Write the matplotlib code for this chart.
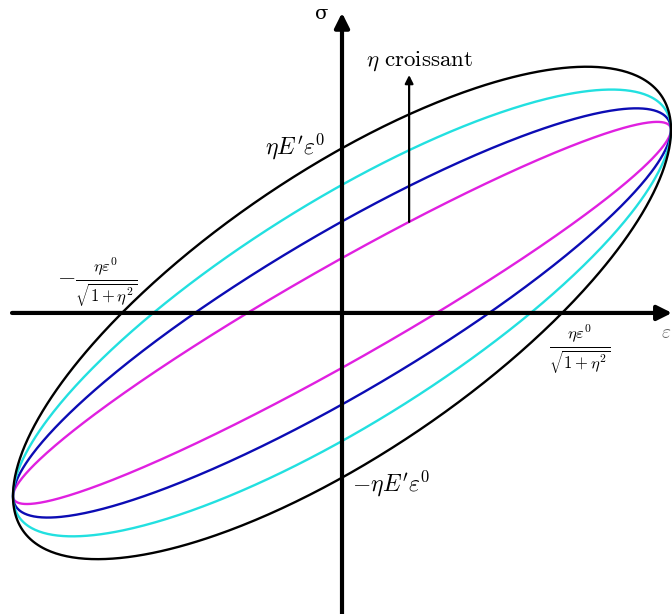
import numpy as np
import matplotlib.pyplot as plt

plt.rcParams['mathtext.fontset'] = 'cm'

# loss factor of each loop and its colour (inner to outer)
eta_values = [0.3, 0.5, 0.7, 0.9]
colors = ['#e020e0', '#0c0cb4', '#22e0e0', 'black']

# strain amplitude and modulus in plot units (eps0 = 1, E' eps0 = 1)
eps0 = 1.0
E_prime = 1.0

t = np.linspace(0, 2*np.pi, 600)

fig = plt.figure(figsize=(6.72, 6.14), dpi=100)
ax = fig.add_axes([0, 0, 1, 1])
ax.set_xlim(-1.0395, 1.003)
ax.set_ylim(-1.645, 1.710)
ax.axis('off')

for eta, c in zip(eta_values, colors):
    eps = eps0*np.sin(t)
    sig = E_prime*eps0*(np.sin(t) + eta*np.cos(t))
    ax.plot(eps, sig, color=c, lw=1.7, solid_capstyle='round')

# axes with arrows
arrow_kw = dict(arrowstyle='-|>', lw=3, color='black', mutation_scale=22,
                shrinkA=0, shrinkB=0)
ax.annotate('', xy=(1.003, 0), xytext=(-1.003, 0), arrowprops=arrow_kw)
ax.annotate('', xy=(0, 1.64), xytext=(0, -1.645), arrowprops=arrow_kw)
ax.text(-0.062, 1.635, 'σ', fontsize=14, family='DejaVu Serif',
        ha='center', va='center')
ax.text(1.0, -0.105, r'$\varepsilon$', fontsize=14, ha='right', va='center',
        alpha=0.6)

# "eta croissant" arrow starting on the inner loop
x_arr = 0.204
y_start = x_arr + eta_values[0]*np.sqrt(1 - x_arr**2)
ax.annotate('', xy=(x_arr, 1.30), xytext=(x_arr, y_start),
            arrowprops=dict(arrowstyle='-|>', lw=1.6, color='black',
                            mutation_scale=12, shrinkA=0, shrinkB=0))
ax.text(0.072, 1.375, r'$\eta\ \mathrm{croissant}$', fontsize=16.5,
        ha='left', va='center')

ax.text(-0.05, 0.91, r"$\eta E'\varepsilon^0$",
        fontsize=17, ha='right', va='center')
ax.text(0.03, -0.93, r"$-\eta E'\varepsilon^0$",
        fontsize=17, ha='left', va='center')
ax.text(-0.745, 0.165, r'$-\frac{\eta\varepsilon^0}{\sqrt{1+\eta^2}}$',
        fontsize=17, ha='center', va='center')
ax.text(0.723, -0.2, r'$\frac{\eta\varepsilon^0}{\sqrt{1+\eta^2}}$',
        fontsize=17, ha='center', va='center')

fig.savefig('out.png', dpi=100)
